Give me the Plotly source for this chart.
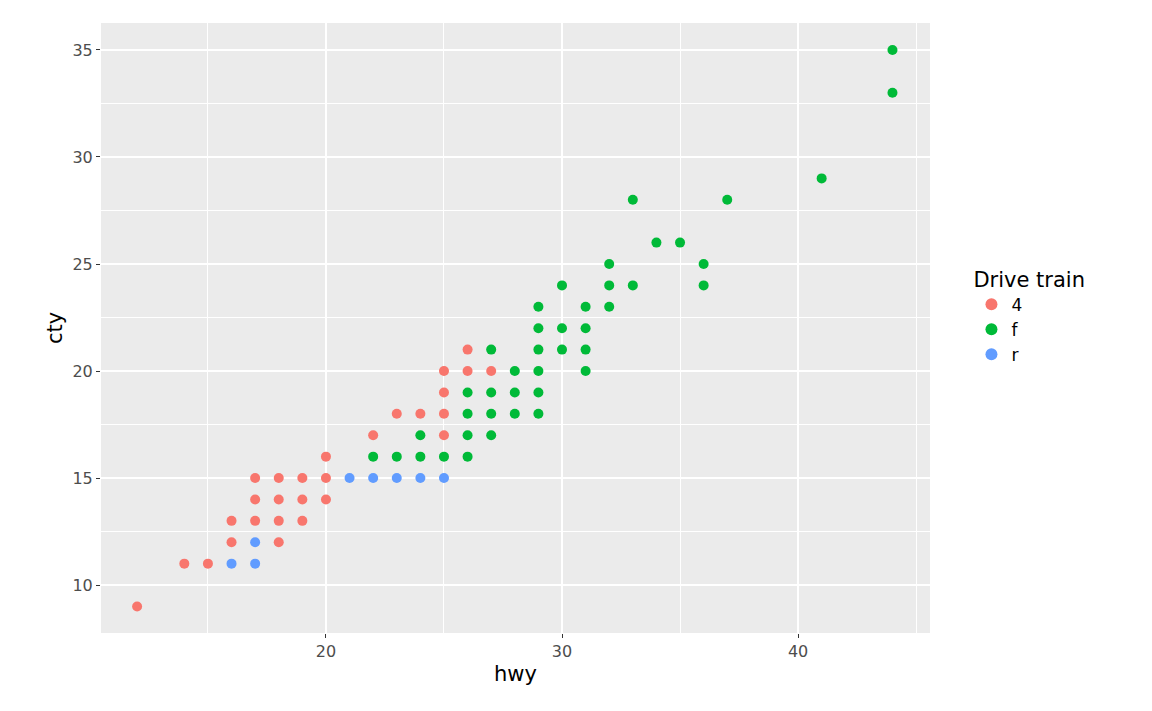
import plotly.graph_objects as go

# mpg: hwy vs cty by drive train (unique points)
hwy_4 = [12, 14, 15, 16, 16, 17, 17, 17, 18, 18, 18, 18, 19, 19, 19, 20, 20, 20, 22, 23, 24, 25, 25, 25, 25, 26, 26, 27]
cty_4 = [9, 11, 11, 12, 13, 13, 14, 15, 12, 13, 14, 15, 13, 14, 15, 14, 15, 16, 17, 18, 18, 17, 18, 19, 20, 20, 21, 20]

hwy_f = [22, 23, 24, 24, 25, 26, 26, 26, 26, 27, 27, 27, 27, 28, 28, 28, 29, 29, 29, 29, 29, 29,
         30, 30, 30, 31, 31, 31, 31, 32, 32, 32, 33, 33, 34, 35, 36, 36, 37, 41, 44, 44]
cty_f = [16, 16, 16, 17, 16, 16, 17, 18, 19, 17, 18, 19, 21, 18, 19, 20, 18, 19, 20, 21, 22, 23,
         21, 22, 24, 20, 21, 22, 23, 23, 24, 25, 24, 28, 26, 26, 24, 25, 28, 29, 33, 35]

hwy_r = [16, 17, 17, 21, 22, 23, 24, 25]
cty_r = [11, 11, 12, 15, 15, 15, 15, 15]

fig = go.Figure()
for name, x, y, col in [("4", hwy_4, cty_4, "#F8766D"),
                        ("f", hwy_f, cty_f, "#00BA38"),
                        ("r", hwy_r, cty_r, "#619CFF")]:
    fig.add_trace(go.Scatter(x=x, y=y, mode="markers", name=name,
                             marker=dict(color=col, size=10)))

axis_common = dict(showgrid=True, gridcolor="white", gridwidth=2, zeroline=False,
                   ticks="outside", ticklen=4, tickcolor="#333333", automargin=False,
                   tickfont=dict(size=16, color="#4D4D4D"),
                   title_font=dict(size=21, color="black"),
                   minor=dict(showgrid=True, gridcolor="white", gridwidth=0.8))

fig.update_xaxes(title_text="hwy", range=[10.47, 45.59], dtick=10, tick0=0,
                 minor_dtick=5, **axis_common, title_standoff=6)
fig.update_yaxes(title_text="cty", range=[7.76, 36.26], dtick=5, tick0=0,
                 minor_dtick=2.5, **axis_common, title_standoff=4)

fig.update_layout(
    width=1152, height=711,
    plot_bgcolor="#EBEBEB", paper_bgcolor="white",
    font=dict(family="DejaVu Sans", color="black"),
    margin=dict(l=93, r=230, t=15, b=86),
    legend=dict(title=dict(text="Drive train", font=dict(size=21)),
                font=dict(size=17), x=1.05, y=0.52, yanchor="middle",
                bgcolor="white", itemsizing="constant"),
)
fig.write_html("out.html")
